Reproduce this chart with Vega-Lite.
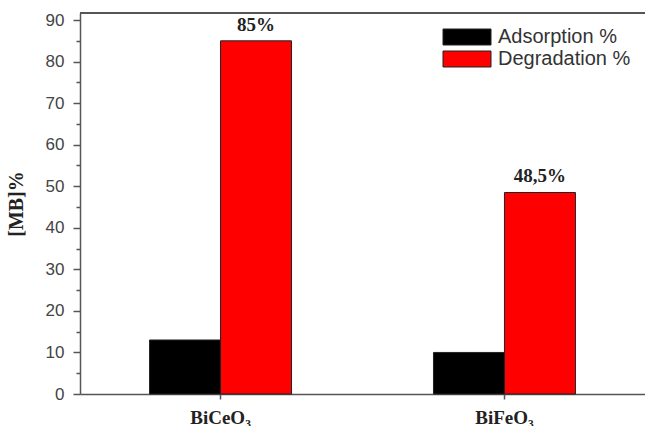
{
  "$schema": "https://vega.github.io/schema/vega-lite/v6.json",
  "width": 565,
  "height": 381,
  "autosize": "none",
  "padding": {"left": 80, "top": 13, "right": 0, "bottom": 32},
  "background": "white",
  "config": {"view": {"stroke": null}},
  "data": {
    "values": [
      {"material": "BiCeO₃", "series": "Adsorption %", "value": 13, "label": ""},
      {"material": "BiCeO₃", "series": "Degradation %", "value": 85, "label": "85%"},
      {"material": "BiFeO₃", "series": "Adsorption %", "value": 10, "label": ""},
      {"material": "BiFeO₃", "series": "Degradation %", "value": 48.5, "label": "48,5%"}
    ]
  },
  "encoding": {
    "x": {
      "field": "material", "type": "nominal", "sort": null,
      "scale": {"paddingInner": 0.5, "paddingOuter": 0.245},
      "axis": {
        "title": null, "labelAngle": 0, "domainColor": "#555", "domainWidth": 1.5,
        "tickColor": "#555", "tickWidth": 1.5, "tickSize": 5,
        "labelFont": "Liberation Serif", "labelFontWeight": "bold", "labelFontSize": 19,
        "labelColor": "#222", "labelPadding": 9
      }
    },
    "xOffset": {"field": "series", "type": "nominal", "sort": ["Adsorption %", "Degradation %"]},
    "y": {
      "field": "value", "type": "quantitative",
      "scale": {"domain": [0, 91.7], "nice": false},
      "axis": {
        "title": "[MB]%", "titleFont": "Liberation Serif", "titleFontWeight": "bold",
        "titleFontSize": 20, "titleColor": "#222", "titlePadding": 19,
        "values": [0, 5, 10, 15, 20, 25, 30, 35, 40, 45, 50, 55, 60, 65, 70, 75, 80, 85, 90],
        "labelExpr": "datum.value % 10 === 0 ? datum.label : ''",
        "tickSize": {"condition": {"test": "datum.value % 10 === 0", "value": 7}, "value": 4},
        "grid": false, "domainColor": "#555", "domainWidth": 1.5,
        "tickColor": "#555", "tickWidth": 1.5,
        "labelFont": "Liberation Sans", "labelFontSize": 17, "labelColor": "#444", "labelPadding": 9
      }
    }
  },
  "layer": [
    {
      "mark": {"type": "rule", "color": "#555", "strokeWidth": 1.5},
      "encoding": {"y": {"datum": 91.7}, "x": null, "xOffset": null}
    },
    {
      "mark": {"type": "bar", "stroke": "#222", "strokeWidth": 1},
      "encoding": {
        "color": {
          "field": "series", "type": "nominal",
          "scale": {"domain": ["Adsorption %", "Degradation %"], "range": ["#000000", "#ff0000"]},
          "legend": {
            "title": null, "orient": "none", "legendX": 361, "legendY": 14,
            "symbolType": "M-1,-1L5,-1L5,1L-1,1Z", "symbolSize": 256,
            "symbolStrokeColor": "#222", "symbolStrokeWidth": 1,
            "labelFont": "Liberation Sans", "labelFontSize": 20, "labelColor": "#333",
            "rowPadding": 2, "labelOffset": 37
          }
        }
      }
    },
    {
      "transform": [{"filter": "datum.series === 'Degradation %'"}],
      "mark": {"type": "text", "dy": -10, "baseline": "alphabetic", "font": "Liberation Serif", "fontWeight": "bold", "fontSize": 19, "color": "#222"},
      "encoding": {"text": {"field": "label"}}
    }
  ]
}
